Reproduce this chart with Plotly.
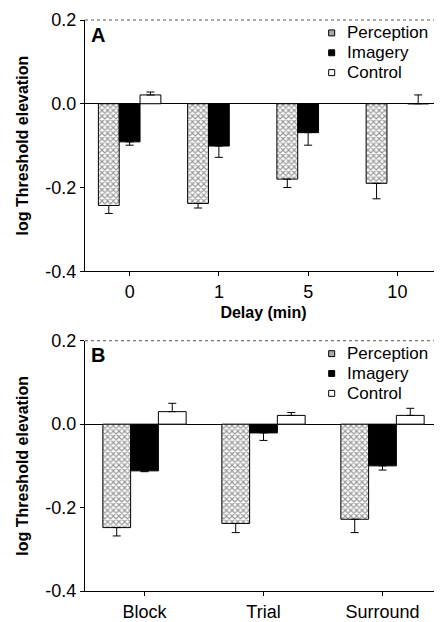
import plotly.graph_objects as go

# Panel A data
delays = ["0", "1", "5", "10"]
perc_a = [-0.243, -0.238, -0.180, -0.190]
perc_a_err = [0.019, 0.011, 0.020, 0.037]
imag_a = [-0.091, -0.101, -0.069, None]
imag_a_err = [0.008, 0.027, 0.030, 0]
ctrl_a = [0.021, None, None, 0.0]
ctrl_a_err = [0.007, 0, 0, 0.021]

# Panel B data
conds = ["Block", "Trial", "Surround"]
perc_b = [-0.248, -0.238, -0.228]
perc_b_err = [0.020, 0.022, 0.032]
imag_b = [-0.112, -0.021, -0.100]
imag_b_err = [0.002, 0.018, 0.010]
ctrl_b = [0.030, 0.021, 0.021]
ctrl_b_err = [0.020, 0.007, 0.017]

series_names = ["Perception", "Imagery", "Control"]

FONT = "Liberation Sans, Arial, sans-serif"
pattern = dict(shape="x", size=4, solidity=0.5, fgcolor="#333", bgcolor="white")


def err(vals, e):
    plus, minus = [], []
    for v, x in zip(vals, e):
        if v is None:
            plus.append(0); minus.append(0)
        elif v < 0:
            plus.append(0); minus.append(x)
        else:
            plus.append(x); minus.append(0)
    return dict(type="data", symmetric=False, array=plus, arrayminus=minus,
                color="black", thickness=1, width=4)


fig = go.Figure()

bar_markers = [
    dict(color="white", pattern=pattern, line=dict(color="black", width=1)),
    dict(color="black", line=dict(color="black", width=1)),
    dict(color="white", line=dict(color="black", width=1)),
]
key_fills = ["#aaa", "black", "white"]


def add_group(xs, vals, errs, xa, ya):
    for name, v, e, bm in zip(series_names, vals, errs, bar_markers):
        fig.add_trace(go.Bar(x=xs, y=v, name=name, xaxis=xa, yaxis=ya, showlegend=False,
                             marker=bm, error_y=err(v, e)))


add_group(delays, [perc_a, imag_a, ctrl_a], [perc_a_err, imag_a_err, ctrl_a_err], "x", "y")
add_group(conds, [perc_b, imag_b, ctrl_b], [perc_b_err, imag_b_err, ctrl_b_err], "x2", "y2")

yax = dict(range=[-0.4, 0.2], tickvals=[-0.4, -0.2, 0.0, 0.2], ticktext=["-0.4", "-0.2", "0.0", "0.2"],
           showgrid=False, zeroline=True, zerolinecolor="black", zerolinewidth=1,
           showline=True, linecolor="black", linewidth=1, ticks="outside", ticklen=4,
           tickcolor="black", tickfont=dict(size=18, color="black"),
           title=dict(text="<b>log Threshold elevation</b>", font=dict(size=16, color="black"), standoff=12))
xax = dict(showgrid=False, showline=True, linecolor="black", linewidth=1, ticks="outside",
           ticklen=4, tickcolor="black", tickfont=dict(size=18, color="black"))

A_TOP = 1.0
B_TOP = 0.4383
PLOT_W = 357.0
PLOT_H = 575.0

# the page body adds an 8px offset, so the figure is sized to the remaining area
fig.update_layout(
    width=434, height=614,
    margin=dict(l=77, r=0, t=12, b=27),
    paper_bgcolor="white", plot_bgcolor="white",
    font=dict(family=FONT, color="black"),
    barmode="group", bargap=0.3, bargroupgap=0,
    xaxis=dict(xax, anchor="y", domain=[0, 1], range=[-0.5, 3.5],
               title=dict(text="<b>Delay (min)</b>", font=dict(size=16), standoff=5)),
    yaxis=dict(yax, anchor="x", domain=[0.56, A_TOP]),
    xaxis2=dict(xax, anchor="y2", domain=[0, 1], range=[-0.5, 2.5]),
    yaxis2=dict(yax, anchor="x2", domain=[0.0, B_TOP]),
    showlegend=False,
)

for yd in (A_TOP, B_TOP):
    fig.add_shape(type="line", xref="paper", yref="paper", x0=0, x1=1, y0=yd, y1=yd,
                  line=dict(color="#555", width=1, dash="dot"))

# panel letters
fig.add_annotation(text="<b>A</b>", xref="paper", yref="paper", x=0.012, y=A_TOP - 0.003,
                   xanchor="left", yanchor="top", showarrow=False, font=dict(size=20))
fig.add_annotation(text="<b>B</b>", xref="paper", yref="paper", x=0.012, y=B_TOP - 0.003,
                   xanchor="left", yanchor="top", showarrow=False, font=dict(size=20))

# keys (legend) for each panel
KEY_X = 0.691      # centre of the key square
TEXT_X = 0.728     # left edge of the key text
ROW_STEP = 20 / PLOT_H
SQ_W = 6 / PLOT_W
SQ_H = 6 / PLOT_H
for top in (A_TOP, B_TOP):
    y0 = top - 13 / PLOT_H
    for i, (name, fill) in enumerate(zip(series_names, key_fills)):
        yc = y0 - i * ROW_STEP
        fig.add_shape(type="rect", xref="paper", yref="paper",
                      x0=KEY_X - SQ_W / 2, x1=KEY_X + SQ_W / 2,
                      y0=yc - SQ_H / 2, y1=yc + SQ_H / 2,
                      fillcolor=fill, line=dict(color="black", width=1))
        fig.add_annotation(text=name, xref="paper", yref="paper", x=TEXT_X, y=yc,
                           xanchor="left", yanchor="middle", showarrow=False,
                           font=dict(size=17, color="black"))

fig.write_html("out.html")
